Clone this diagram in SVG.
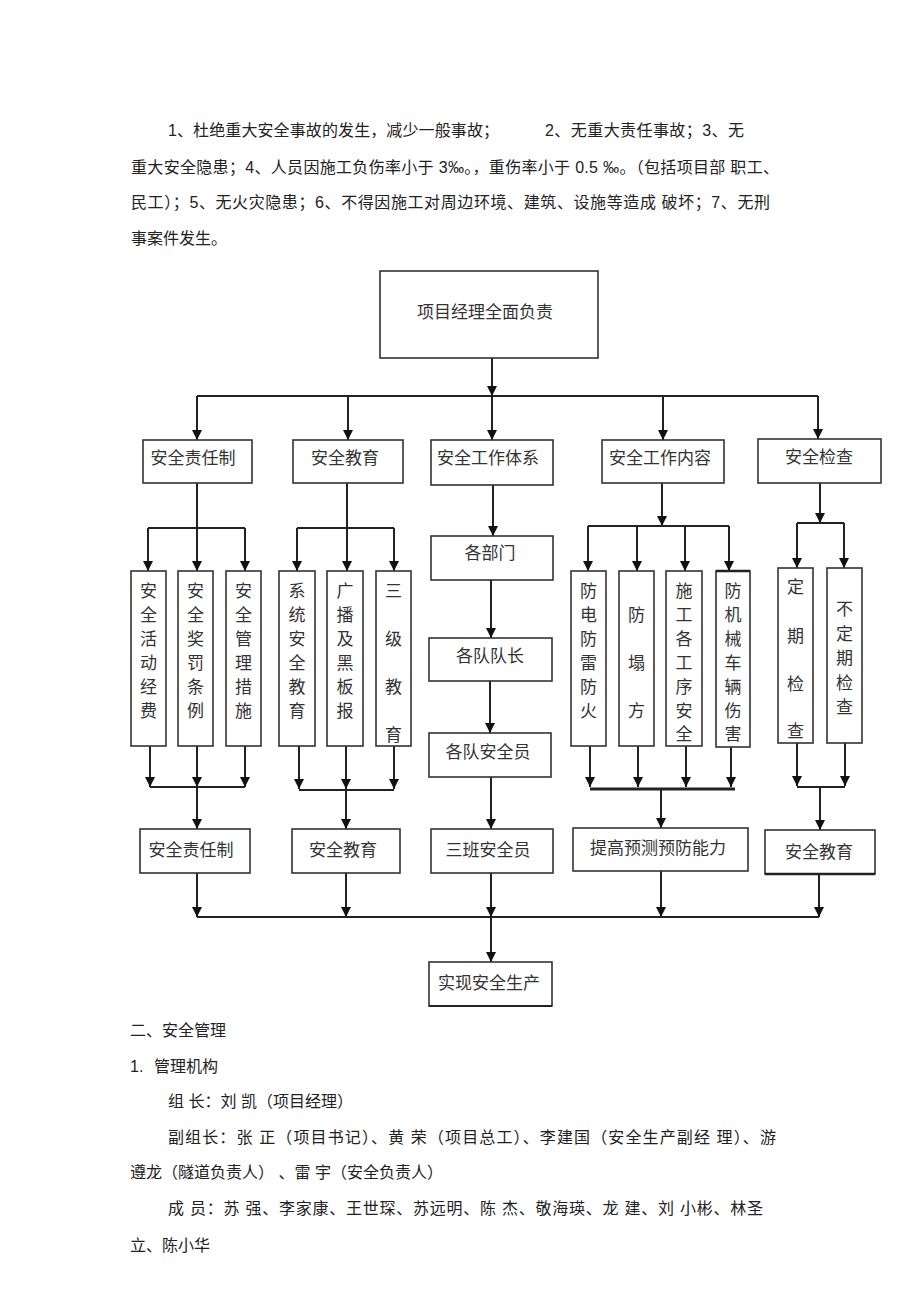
<svg xmlns="http://www.w3.org/2000/svg" width="920" height="1303" viewBox="0 0 920 1303">
<style>
.box{fill:#fff;stroke:#333;stroke-width:1.6}
.lbl{font-family:"Noto Sans CJK SC",sans-serif;font-size:17px;fill:#333;text-anchor:middle}
.para{font-family:"Liberation Sans","Noto Sans CJK SC",sans-serif;font-size:16px;fill:#222}
.conn path{stroke:#222;stroke-width:2;fill:none}
.conn path.a{marker-end:url(#arr)}
</style>
<defs>
<marker id="arr" viewBox="0 0 10 10" refX="10" refY="5" markerWidth="10" markerHeight="10" markerUnits="userSpaceOnUse" orient="auto"><path d="M0,0 L10,5 L0,10 z" fill="#111"/></marker>
</defs>
<rect width="920" height="1303" fill="#fff"/>

<g id="para-top">
<text class="para" x="168" y="136" textLength="331" lengthAdjust="spacing">1、杜绝重大安全事故的发生，减少一般事故；</text>
<text class="para" x="545" y="136" textLength="199" lengthAdjust="spacing">2、无重大责任事故；3、无</text>
<text class="para" x="131" y="173" textLength="648" lengthAdjust="spacing">重大安全隐患；4、人员因施工负伤率小于 3‰。，重伤率小于 0.5 ‰。（包括项目部 职工、</text>
<text class="para" x="131" y="208" textLength="639" lengthAdjust="spacing">民工）；5、无火灾隐患；6、不得因施工对周边环境、建筑、设施等造成 破坏；7、无刑</text>
<text class="para" x="131" y="244">事案件发生。</text>
</g>

<g class="conn" id="connectors">
<path class="a" d="M492,358 V396"/>
<path class="a" d="M492,396 V440"/>
<path d="M197,396 H818"/>
<path class="a" d="M197,396 V440"/>
<path class="a" d="M348,396 V440"/>
<path class="a" d="M663,396 V440"/>
<path class="a" d="M818,396 V439"/>

<path class="a" d="M197,483 V571"/>
<path d="M148,528 H245"/>
<path class="a" d="M148,528 V571"/>
<path class="a" d="M245,528 V571"/>
<path class="a" d="M150,746 V787"/>
<path class="a" d="M197,746 V787"/>
<path class="a" d="M245,746 V787"/>
<path d="M150,787 H245"/>
<path class="a" d="M197,787 V829"/>

<path class="a" d="M347,483 V571"/>
<path d="M297,528 H394"/>
<path class="a" d="M297,528 V571"/>
<path class="a" d="M394,528 V571"/>
<path class="a" d="M299,746 V789"/>
<path class="a" d="M346,746 V789"/>
<path class="a" d="M394,746 V789"/>
<path d="M299,790 H394"/>
<path class="a" d="M346,790 V829"/>

<path class="a" d="M493,485 V536"/>
<path class="a" d="M491,580 V638"/>
<path class="a" d="M490,681 V733"/>
<path class="a" d="M491,777 V829"/>

<path class="a" d="M662,483 V526"/>
<path d="M588,526 H729"/>
<path class="a" d="M588,526 V571"/>
<path class="a" d="M637,526 V571"/>
<path class="a" d="M685,526 V571"/>
<path class="a" d="M729,526 V571"/>
<path class="a" d="M590,746 V787"/>
<path class="a" d="M638,746 V787"/>
<path class="a" d="M686,746 V787"/>
<path class="a" d="M731,747 V787"/>
<path d="M590,789 H735" style="stroke-width:3"/>
<path class="a" d="M661,789 V828"/>

<path class="a" d="M820,483 V523"/>
<path d="M797,523 H844"/>
<path class="a" d="M797,523 V568"/>
<path class="a" d="M844,523 V568"/>
<path class="a" d="M797,743 V786"/>
<path class="a" d="M845,743 V786"/>
<path d="M797,787 H845"/>
<path class="a" d="M820,787 V830"/>

<path class="a" d="M197,873 V917"/>
<path class="a" d="M346,873 V917"/>
<path class="a" d="M491,873 V917"/>
<path class="a" d="M661,871 V917"/>
<path class="a" d="M819,874 V917"/>
<path d="M197,917 H819"/>
<path class="a" d="M491,917 V962"/>
</g>

<g id="n-top"><rect class="box" x="380" y="271" width="218" height="87"/><text class="lbl" x="485" y="318">项目经理全面负责</text></g>

<g id="n-l2-zrz"><rect class="box" x="143" y="440" width="109" height="43"/><text class="lbl" x="193" y="464">安全责任制</text></g>
<g id="n-l2-jy"><rect class="box" x="293" y="440" width="110" height="43"/><text class="lbl" x="345" y="464">安全教育</text></g>
<g id="n-l2-tx"><rect class="box" x="431" y="440" width="122" height="45"/><text class="lbl" x="488" y="464">安全工作体系</text></g>
<g id="n-l2-nr"><rect class="box" x="602" y="440" width="122" height="43"/><text class="lbl" x="660" y="464">安全工作内容</text></g>
<g id="n-l2-jc"><rect class="box" x="758" y="439" width="123" height="44"/><text class="lbl" x="819" y="463">安全检查</text></g>

<g id="n-a1"><rect class="box" x="131" y="571" width="35" height="175"/><text class="lbl"><tspan x="148.5" y="596.5">安</tspan><tspan x="148.5" y="620.5">全</tspan><tspan x="148.5" y="644.5">活</tspan><tspan x="148.5" y="668.5">动</tspan><tspan x="148.5" y="692.5">经</tspan><tspan x="148.5" y="716.5">费</tspan></text></g>
<g id="n-a2"><rect class="box" x="178" y="571" width="35" height="175"/><text class="lbl"><tspan x="195.5" y="596.5">安</tspan><tspan x="195.5" y="620.5">全</tspan><tspan x="195.5" y="644.5">奖</tspan><tspan x="195.5" y="668.5">罚</tspan><tspan x="195.5" y="692.5">条</tspan><tspan x="195.5" y="716.5">例</tspan></text></g>
<g id="n-a3"><rect class="box" x="226" y="571" width="35" height="175"/><text class="lbl"><tspan x="243.5" y="596.5">安</tspan><tspan x="243.5" y="620.5">全</tspan><tspan x="243.5" y="644.5">管</tspan><tspan x="243.5" y="668.5">理</tspan><tspan x="243.5" y="692.5">措</tspan><tspan x="243.5" y="716.5">施</tspan></text></g>

<g id="n-b1"><rect class="box" x="279" y="571" width="36" height="175"/><text class="lbl"><tspan x="297" y="596.5">系</tspan><tspan x="297" y="620.5">统</tspan><tspan x="297" y="644.5">安</tspan><tspan x="297" y="668.5">全</tspan><tspan x="297" y="692.5">教</tspan><tspan x="297" y="716.5">育</tspan></text></g>
<g id="n-b2"><rect class="box" x="327" y="571" width="36" height="175"/><text class="lbl"><tspan x="345" y="596.5">广</tspan><tspan x="345" y="620.5">播</tspan><tspan x="345" y="644.5">及</tspan><tspan x="345" y="668.5">黑</tspan><tspan x="345" y="692.5">板</tspan><tspan x="345" y="716.5">报</tspan></text></g>
<g id="n-b3"><rect class="box" x="376" y="571" width="35" height="175"/><text class="lbl"><tspan x="393.5" y="596.5">三</tspan><tspan x="393.5" y="644.5">级</tspan><tspan x="393.5" y="692.5">教</tspan><tspan x="393.5" y="740.5">育</tspan></text></g>

<g id="n-c1"><rect class="box" x="431" y="536" width="122" height="44"/><text class="lbl" x="490" y="559">各部门</text></g>
<g id="n-c2"><rect class="box" x="429" y="638" width="123" height="43"/><text class="lbl" x="490" y="662">各队队长</text></g>
<g id="n-c3"><rect class="box" x="429" y="733" width="122" height="44"/><text class="lbl" x="488" y="758">各队安全员</text></g>

<g id="n-d1"><rect class="box" x="571" y="571" width="35" height="175"/><text class="lbl"><tspan x="588.5" y="596.5">防</tspan><tspan x="588.5" y="620.5">电</tspan><tspan x="588.5" y="644.5">防</tspan><tspan x="588.5" y="668.5">雷</tspan><tspan x="588.5" y="692.5">防</tspan><tspan x="588.5" y="716.5">火</tspan></text></g>
<g id="n-d2"><rect class="box" x="619" y="571" width="35" height="175"/><text class="lbl"><tspan x="636.5" y="620.5">防</tspan><tspan x="636.5" y="668.5">塌</tspan><tspan x="636.5" y="716.5">方</tspan></text></g>
<g id="n-d3"><rect class="box" x="666" y="571" width="36" height="175"/><text class="lbl"><tspan x="684" y="596.5">施</tspan><tspan x="684" y="620.5">工</tspan><tspan x="684" y="644.5">各</tspan><tspan x="684" y="668.5">工</tspan><tspan x="684" y="692.5">序</tspan><tspan x="684" y="716.5">安</tspan><tspan x="684" y="740">全</tspan></text></g>
<g id="n-d4"><rect class="box" x="716" y="571" width="34" height="176"/><line x1="716" y1="571" x2="750" y2="571" stroke="#222" stroke-width="2.5"/><text class="lbl"><tspan x="733" y="596.5">防</tspan><tspan x="733" y="620.5">机</tspan><tspan x="733" y="644.5">械</tspan><tspan x="733" y="668.5">车</tspan><tspan x="733" y="692.5">辆</tspan><tspan x="733" y="716.5">伤</tspan><tspan x="733" y="740">害</tspan></text></g>

<g id="n-e1"><rect class="box" x="778" y="568" width="35" height="175"/><text class="lbl"><tspan x="795.5" y="592.5">定</tspan><tspan x="795.5" y="641.5">期</tspan><tspan x="795.5" y="689.5">检</tspan><tspan x="795.5" y="736.5">查</tspan></text></g>
<g id="n-e2"><rect class="box" x="827" y="568" width="35" height="175"/><text class="lbl"><tspan x="844.5" y="615">不</tspan><tspan x="844.5" y="639.5">定</tspan><tspan x="844.5" y="664">期</tspan><tspan x="844.5" y="688.5">检</tspan><tspan x="844.5" y="713">查</tspan></text></g>

<g id="n-r-zrz"><rect class="box" x="140" y="829" width="110" height="44"/><text class="lbl" x="191" y="856">安全责任制</text></g>
<g id="n-r-jy"><rect class="box" x="292" y="829" width="108" height="44"/><text class="lbl" x="343" y="856">安全教育</text></g>
<g id="n-r-sb"><rect class="box" x="431" y="829" width="122" height="44"/><text class="lbl" x="488" y="856">三班安全员</text></g>
<g id="n-r-tg"><rect class="box" x="573" y="828" width="175" height="43"/><text class="lbl" x="658" y="854">提高预测预防能力</text></g>
<g id="n-r-jy2"><rect class="box" x="765" y="830" width="110" height="44"/><line x1="765" y1="874" x2="875" y2="874" stroke="#222" stroke-width="2.5"/><text class="lbl" x="819" y="858">安全教育</text></g>

<g id="n-final"><rect class="box" x="429" y="962" width="123" height="44"/><line x1="429" y1="1006" x2="552" y2="1006" stroke="#222" stroke-width="2"/><text class="lbl" x="489" y="989">实现安全生产</text></g>

<g id="para-bottom">
<text class="para" x="130" y="1036">二、安全管理</text>
<text class="para" x="130" y="1072">1.<tspan x="154">管理机构</tspan></text>
<text class="para" x="168" y="1107">组 长：刘 凯（项目经理）</text>
<text class="para" x="168" y="1143" textLength="608" lengthAdjust="spacing">副组长：张 正（项目书记）、黄 荣（项目总工）、李建国（安全生产副经 理）、游</text>
<text class="para" x="130" y="1178">遵龙（隧道负责人）  、雷 宇（安全负责人）</text>
<text class="para" x="168" y="1214" textLength="595" lengthAdjust="spacing">成 员：苏 强、李家康、王世琛、苏远明、陈 杰、敬海瑛、龙 建、刘 小彬、林圣</text>
<text class="para" x="130" y="1251">立、陈小华</text>
</g>
</svg>
